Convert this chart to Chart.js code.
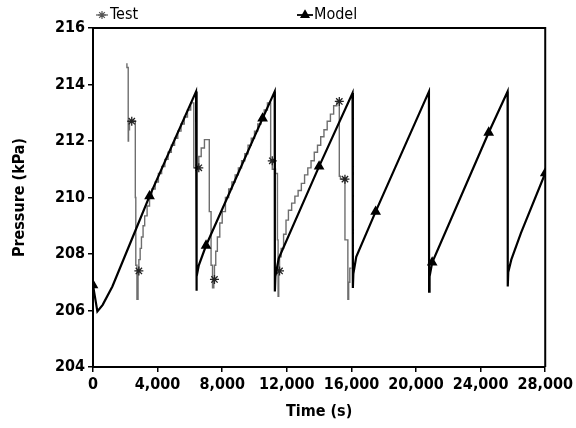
<!DOCTYPE html>
<html>
<head>
<meta charset="utf-8">
<script src="https://cdn.jsdelivr.net/npm/chart.js@4.4.1/dist/chart.umd.min.js"></script>
<style>
  html, body { margin: 0; padding: 0; background: #fff; }
  #wrap { width: 576px; height: 428px; }
</style>
</head>
<body>
<div id="wrap"><canvas id="pressChart"></canvas></div>
<script>
// model run (black line, triangles)
var modelX = [0, 270, 600, 1200, 2640, 3500, 6380, 6400, 6430, 6550, 7000, 10500, 11250,
  11260, 11290, 11500, 14000, 16070, 16090, 16120, 16300, 17500, 20800,
  20810, 20840, 21000, 24500, 25670, 25680, 25710, 25900, 26500, 28000];
var modelY = [206.9, 205.97, 206.2, 206.85, 208.85, 210.05, 213.75, 206.7, 207.2, 207.6, 208.3, 212.8, 213.75,
  206.67, 207.2, 207.85, 211.1, 213.7, 206.8, 207.3, 207.9, 209.5, 213.75,
  206.67, 207.2, 207.7, 212.3, 213.75, 206.85, 207.35, 207.8, 208.75, 210.86];
var modelMarks = [0, 3500, 7000, 10500, 14000, 17500, 21000, 24500, 28000];

// measured (grey staircase, stars)
var testX = [2100, 2180, 2200, 2260, 2330, 2400, 2620, 2650, 2720, 2790, 2840, 2920, 3000, 3100, 3200,
  3350, 3500, 3650, 3850, 4050, 4250, 4450, 4650, 4850, 5050, 5250, 5450, 5650, 5850, 6050, 6240,
  6380, 6550, 6700, 6900, 7200, 7310, 7400, 7480, 7520, 7600, 7700, 7850, 8000, 8200, 8400, 8600,
  8800, 9000, 9200, 9400, 9600, 9800, 10000, 10200, 10400, 10600, 10800, 11000,
  11100, 11300, 11420, 11460, 11500, 11550, 11650, 11800, 11950, 12100, 12300, 12500, 12700, 12900,
  13100, 13300, 13500, 13700, 13900, 14100, 14300, 14500, 14700, 14900, 15100, 15250,
  15320, 15600, 15780, 15830, 15900, 16000];
var testY = [214.75, 214.6, 212.0, 212.4, 212.7, 212.7, 212.7, 210.0, 207.6, 206.4, 207.4, 207.8, 208.2, 208.6, 209.0,
  209.35, 209.7, 210.0, 210.3, 210.55, 210.85, 211.1, 211.35, 211.6, 211.85, 212.1, 212.35, 212.6, 212.85, 213.1, 213.35,
  211.05, 211.05, 211.45, 211.75, 212.05, 209.5, 207.6, 206.8, 207.1, 207.6, 208.1, 208.6, 209.1, 209.5, 210.0, 210.3,
  210.55, 210.8, 211.05, 211.3, 211.55, 211.85, 212.1, 212.35, 212.6, 212.85, 213.1, 213.35,
  211.3, 211.0, 210.85, 208.5, 206.5, 207.4, 207.9, 208.2, 208.7, 209.2, 209.55, 209.8, 210.05, 210.25,
  210.5, 210.8, 211.05, 211.3, 211.6, 211.85, 212.15, 212.4, 212.7, 212.95, 213.25, 213.4,
  210.75, 210.65, 208.5, 206.4, 207.0, 207.5];
var testMarks = [2400, 2840, 6550, 7520, 11100, 11550, 15250, 15600];

var xTicks = [0, 4000, 8000, 12000, 16000, 20000, 24000, 28000];
var yTicks = [204, 206, 208, 210, 212, 214, 216];

var FONT = "'Liberation Sans Narrow', 'Arial Narrow', 'DejaVu Sans Condensed', sans-serif";

function toPoints(xs, ys) {
  return xs.map(function (x, i) { return { x: x, y: ys[i] }; });
}

var frameAndLegend = {
  id: 'frameAndLegend',
  afterDatasetsDraw: function (chart) {
    var c = chart.ctx, a = chart.chartArea;
    c.save();
    c.strokeStyle = '#000';
    c.lineWidth = 2;
    c.beginPath();
    c.moveTo(a.left, a.top);
    c.lineTo(a.right, a.top);
    c.lineTo(a.right, a.bottom);
    c.stroke();

    // legend, drawn where the original puts it
    c.font = '16px ' + FONT;
    c.textBaseline = 'middle';
    c.fillStyle = '#000';
    c.lineWidth = 1.2;
    c.strokeStyle = '#555';
    c.beginPath(); c.moveTo(96, 15); c.lineTo(108, 15); c.stroke();
    Chart.helpers.drawPoint(c, { pointStyle: 'star', radius: 4, borderWidth: 1.2 }, 102, 15);
    c.fillText('Test', 110, 15);

    c.strokeStyle = '#000';
    c.lineWidth = 1.8;
    c.beginPath(); c.moveTo(297, 15); c.lineTo(313, 15); c.stroke();
    c.fillStyle = '#000';
    Chart.helpers.drawPoint(c, { pointStyle: 'triangle', radius: 4, borderWidth: 1 }, 305, 15);
    c.fillText('Model', 314, 15);
    c.restore();
  }
};

var ctx = document.getElementById('pressChart').getContext('2d');

var myChart = new Chart(ctx, {
  type: 'scatter',
  data: {
    datasets: [{
        label: 'Model',
        data: toPoints(modelX, modelY),
        showLine: true,
        order: 0,
        borderColor: '#000',
        backgroundColor: '#000',
        borderWidth: 2.2,
        pointStyle: 'triangle',
        pointBorderColor: '#000',
        pointBackgroundColor: '#000',
        pointRadius: function (c) { return modelMarks.indexOf(c.raw.x) >= 0 ? 4 : 0; },
        pointHoverRadius: 0
      },
      {
        label: 'Test',
        data: toPoints(testX, testY),
        showLine: true,
        stepped: 'after',
        order: 1,
        borderColor: '#6e6e6e',
        backgroundColor: '#333',
        borderWidth: 1.4,
        pointStyle: 'star',
        pointBorderColor: '#222',
        pointBorderWidth: 1.3,
        pointRadius: function (c) { return testMarks.indexOf(c.raw.x) >= 0 ? 4.5 : 0; },
        pointHoverRadius: 0
      }
    ]
  },
  options: {
    responsive: true,
    maintainAspectRatio: false,
    animation: false,
    layout: { padding: { top: 28, right: 29, left: 0, bottom: 0 } },
    plugins: {
      legend: { display: false },
      tooltip: { enabled: false }
    },
    scales: {
      x: {
        type: 'linear',
        min: 0,
        max: 28000,
        afterFit: function (s) { s.height = 61; },
        afterBuildTicks: function (s) { s.ticks = xTicks.map(function (v) { return { value: v }; }); },
        grid: { display: true, drawOnChartArea: false, drawTicks: true, tickLength: 5, color: '#000', lineWidth: 1.5 },
        border: { display: true, color: '#000', width: 2 },
        ticks: {
          color: '#000',
          padding: 3,
          maxRotation: 0,
          font: { family: FONT, size: 16, weight: 'bold' },
          callback: function (v) { return v.toLocaleString('en-US'); }
        },
        title: {
          display: true,
          text: 'Time (s)',
          color: '#000',
          padding: { top: 0, bottom: 7 },
          font: { family: FONT, size: 16, weight: 'bold' }
        }
      },
      y: {
        min: 204,
        max: 216,
        afterFit: function (s) { s.width = 93; },
        afterBuildTicks: function (s) { s.ticks = yTicks.map(function (v) { return { value: v }; }); },
        grid: { display: true, drawOnChartArea: false, drawTicks: true, tickLength: 5, color: '#000', lineWidth: 1.5 },
        border: { display: true, color: '#000', width: 2 },
        ticks: {
          color: '#000',
          padding: 3,
          font: { family: FONT, size: 16, weight: 'bold' }
        },
        title: {
          display: true,
          text: 'Pressure (kPa)',
          color: '#000',
          padding: { top: 10, bottom: 0 },
          font: { family: FONT, size: 16, weight: 'bold' }
        }
      }
    }
  },
  plugins: [frameAndLegend]
});
</script>
</body>
</html>
